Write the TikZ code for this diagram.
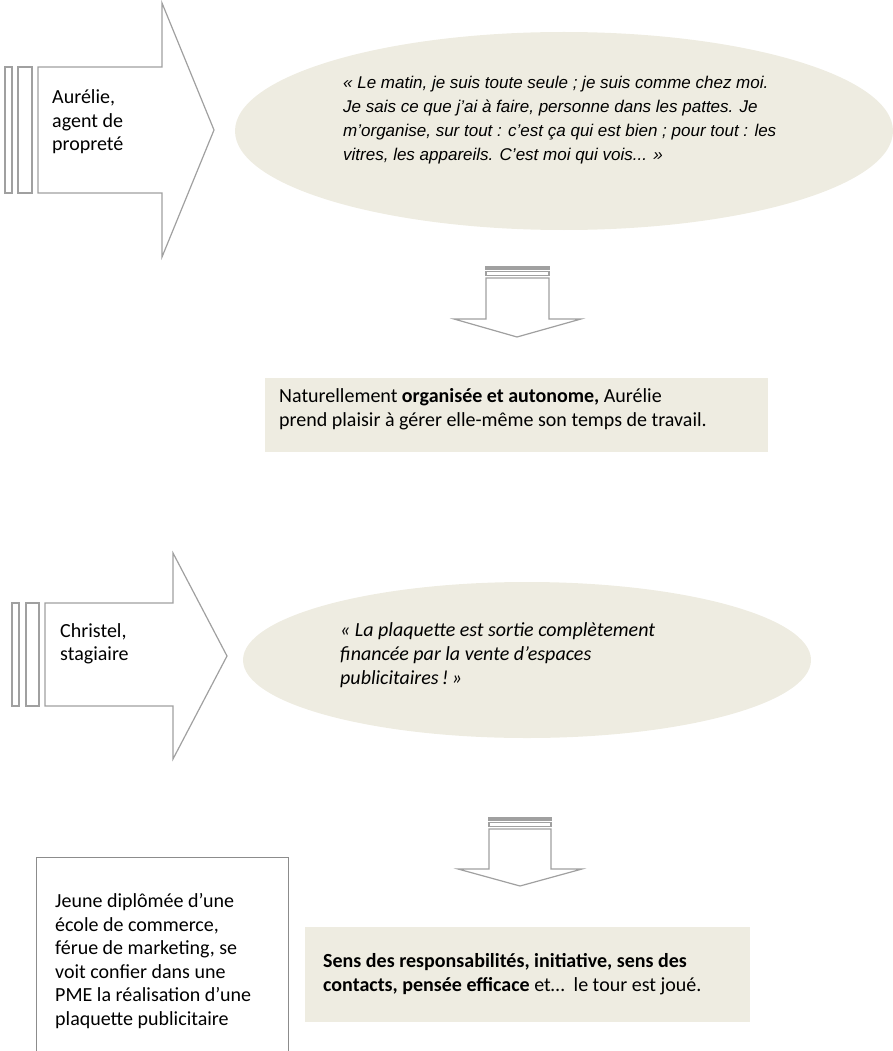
\documentclass[tikz,border=0pt]{standalone}
\usepackage{fontspec}
\setmainfont{Carlito}
\newfontfamily\arialfont{Liberation Sans}
\usetikzlibrary{shapes.geometric}
\definecolor{tan}{HTML}{EEECE1}
\definecolor{linegray}{HTML}{A0A0A0}
\definecolor{boxgray}{HTML}{8C8C8C}
\tikzset{
  blockarrow/.style={draw=linegray, line width=1.2pt, fill=white, line join=miter},
  barbox/.style={draw=linegray, line width=1.2pt},
  bubble/.style={ellipse, fill=tan, inner sep=0pt},
  txt/.style={anchor=west, inner sep=0pt, align=left, font=\fontsize{20}{23.5}\selectfont},
}
\begin{document}
\begin{tikzpicture}[x=1pt, y=-1pt]
\useasboundingbox (0,0) rectangle (893,1051);

  % Aurelie
  \draw[barbox] (5,67) rectangle (12,193);
  \draw[barbox] (18,67) rectangle (32,193);
  \draw[blockarrow] (38,67) -- (162,67) -- (162,3) -- (214,130) -- (162,257) -- (162,193) -- (38,193) -- cycle;
  \node[txt] (p1) at (52,122) {Aurélie,\\agent de\\propreté};

  \node[bubble, minimum width=658pt, minimum height=198pt] (e1) at (564,131) {};
  \node[txt, font=\arialfont\itshape\fontsize{17}{24}\selectfont] (q1) at (343,120)
    {« Le matin, je suis toute seule ; je suis comme chez moi.\\Je sais ce que j’ai à faire, personne dans les pattes. Je\\m’organise, sur tout : c’est ça qui est bien ; pour tout : les\\vitres, les appareils. C’est moi qui vois... »};

  \draw[barbox] (486,267) rectangle (549,269);
  \draw[barbox] (486,271.5) rectangle (549,275.5);
  \draw[blockarrow] (486,278) -- (549,278) -- (549,319) -- (581,319) -- (517,337) -- (454,319) -- (486,319) -- cycle;

  \node[fill=tan, inner sep=0pt, minimum width=503pt, minimum height=74pt] (r1) at (516.5,415) {};
  \node[txt] (t1) at (279,409) {Naturellement \textbf{organisée et autonome,} Aurélie\\prend plaisir à gérer elle-même son temps de travail.};

  % Christel
  \draw[barbox] (12,603) rectangle (19,706);
  \draw[barbox] (26,603) rectangle (39,706);
  \draw[blockarrow] (45,603) -- (173,603) -- (173,553) -- (227,656) -- (173,759) -- (173,706) -- (45,706) -- cycle;
  \node[txt] (p2) at (60,644) {Christel,\\stagiaire};

  \node[bubble, minimum width=568pt, minimum height=156pt] (e2) at (527,660) {};
  \node[txt, font=\itshape\fontsize{20}{24}\selectfont] (q2) at (340,655)
    {« La plaquette est sortie complètement\\financée par la vente d’espaces\\publicitaires\,!\,»};

  \draw[barbox] (489,818) rectangle (551,820);
  \draw[barbox] (489,822.5) rectangle (551,826.5);
  \draw[blockarrow] (489,829) -- (551,829) -- (551,869) -- (582,869) -- (520,886) -- (458,869) -- (489,869) -- cycle;

  \node[draw=boxgray, line width=1.2pt, anchor=north west, minimum width=252pt, minimum height=210pt] (d2) at (36,857) {};
  \node[txt] (p3) at (55,961) {Jeune diplômée d’une\\école de commerce,\\férue de marketing, se\\voit confier dans une\\PME la réalisation d’une\\plaquette publicitaire};

  \node[fill=tan, inner sep=0pt, minimum width=445pt, minimum height=95pt] (r2) at (527.5,974.5) {};
  \node[txt] (t2) at (323,974) {\textbf{Sens des responsabilités, initiative, sens des}\\\textbf{contacts, pensée efficace} et…~ le tour est joué.};
\end{tikzpicture}
\end{document}
